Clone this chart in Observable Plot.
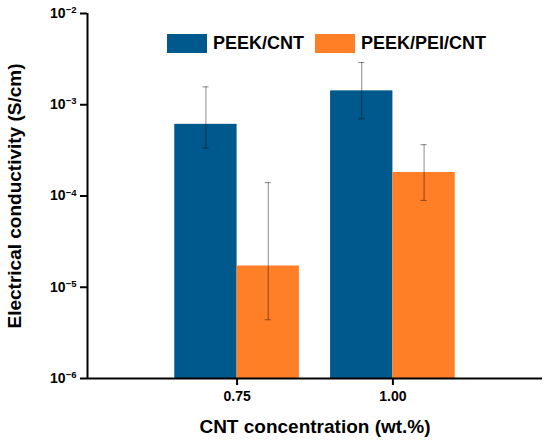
<!DOCTYPE html>
<html>
<head>
<meta charset="utf-8">
<script src="https://cdn.jsdelivr.net/npm/d3@7"></script>
<script src="https://cdn.jsdelivr.net/npm/@observablehq/plot@0.6"></script>
<style>
  html, body { margin: 0; padding: 0; background: #fff; }
  #wrap { position: relative; width: 550px; height: 444px; font-family: "Liberation Sans", Arial, sans-serif; }
  #legend { position: absolute; left: 167px; top: 33px; display: flex; align-items: center; font-weight: bold; font-size: 18px; color: #000; }
  #legend .item { display: flex; align-items: center; margin-right: 11px; }
  #legend .sw { width: 40px; height: 19px; margin-right: 6px; }
</style>
</head>
<body>
<div id="wrap"></div>
<script>
// ---- data ----
const concentrations = [0.75, 1.00];
const series = ["PEEK/CNT", "PEEK/PEI/CNT"];
const peekCnt = [6.1e-4, 1.42e-3];
const peekCntUpper = [1.57e-3, 2.9e-3];
const peekCntLower = [3.35e-4, 7.0e-4];
const peekPeiCnt = [1.71e-5, 1.81e-4];
const peekPeiCntUpper = [1.40e-4, 3.65e-4];
const peekPeiCntLower = [4.4e-6, 8.95e-5];
const yTicks = [1e-6, 1e-5, 1e-4, 1e-3, 1e-2];
const colors = ["#00598C", "#FF7F27"];

// ---- table ----
const barWidth = 0.1;   // in wt.% units
const capHalf = 0.005;
const rows = [];
concentrations.forEach((c, i) => {
  rows.push({conc: c, series: series[0], value: peekCnt[i], lo: peekCntLower[i], hi: peekCntUpper[i], side: -1});
  rows.push({conc: c, series: series[1], value: peekPeiCnt[i], lo: peekPeiCntLower[i], hi: peekPeiCntUpper[i], side: 1});
});
rows.forEach(r => {
  r.x1 = r.side < 0 ? r.conc - barWidth : r.conc;
  r.x2 = r.side < 0 ? r.conc : r.conc + barWidth;
  r.xc = (r.x1 + r.x2) / 2;
});

const font = "'Liberation Sans', Arial, Helvetica, sans-serif";

const plot = Plot.plot({
  width: 550,
  height: 444,
  marginLeft: 87,
  marginRight: 8,
  marginTop: 13,
  marginBottom: 66,
  style: {fontFamily: font, fontWeight: "bold", fontSize: "14px", color: "#000", background: "#fff"},
  x: {domain: [0.51, 1.24]},
  y: {type: "log", domain: [1e-6, 1e-2]},
  color: {domain: series, range: colors},
  marks: [
    Plot.rectY(rows, {x1: "x1", x2: "x2", y1: 1e-6, y2: "value", fill: "series"}),
    Plot.ruleX(rows, {x: "xc", y1: "lo", y2: "hi", stroke: "#000", strokeOpacity: 0.45, strokeWidth: 1}),
    Plot.ruleY(rows, {y: "hi", x1: d => d.xc - capHalf, x2: d => d.xc + capHalf, stroke: "#000", strokeOpacity: 0.45, strokeWidth: 1}),
    Plot.ruleY(rows, {y: "lo", x1: d => d.xc - capHalf, x2: d => d.xc + capHalf, stroke: "#000", strokeOpacity: 0.45, strokeWidth: 1}),
    Plot.ruleX([0.51], {stroke: "#000", strokeWidth: 2}),
    Plot.ruleY([1e-6], {stroke: "#000", strokeWidth: 2}),
    Plot.axisY({ticks: yTicks, tickFormat: d => "10^" + Math.round(Math.log10(d)), tickSize: 7, tickPadding: 4, fontSize: 14, strokeWidth: 2, label: null}),
    Plot.axisY({ticks: [], label: "Electrical conductivity (S/cm)", labelArrow: "none", labelAnchor: "center", labelOffset: 80, fontSize: 19, tickSize: 0}),
    Plot.axisX({ticks: concentrations, tickFormat: d3.format(".2f"), tickSize: 7, tickPadding: 6, fontSize: 14, strokeWidth: 2, label: null}),
    Plot.axisX({ticks: [], label: "CNT concentration (wt.%)", labelArrow: "none", labelAnchor: "center", labelOffset: 54, fontSize: 19, tickSize: 0})
  ]
});

// superscript exponents on the log ticks
plot.querySelectorAll("text").forEach(t => {
  const m = /^10\^(-?\d+)$/.exec(t.textContent);
  if (!m) return;
  const ns = "http://www.w3.org/2000/svg";
  while (t.firstChild) t.removeChild(t.firstChild);
  t.appendChild(document.createTextNode("10"));
  const sup = document.createElementNS(ns, "tspan");
  sup.setAttribute("font-size", "9.5px");
  sup.setAttribute("dy", "-0.5em");
  sup.textContent = m[1].replace("-", "\u2212");
  t.appendChild(sup);
});

const wrap = document.getElementById("wrap");
wrap.appendChild(plot);

// legend from the plot's color scale
const colorScale = plot.scale("color");
const legend = document.createElement("div");
legend.id = "legend";
colorScale.domain.forEach(s => {
  const item = document.createElement("div");
  item.className = "item";
  const sw = document.createElement("div");
  sw.className = "sw";
  sw.style.background = colorScale.apply(s);
  const label = document.createElement("span");
  label.textContent = s;
  item.appendChild(sw);
  item.appendChild(label);
  legend.appendChild(item);
});
wrap.appendChild(legend);
</script>
</body>
</html>
